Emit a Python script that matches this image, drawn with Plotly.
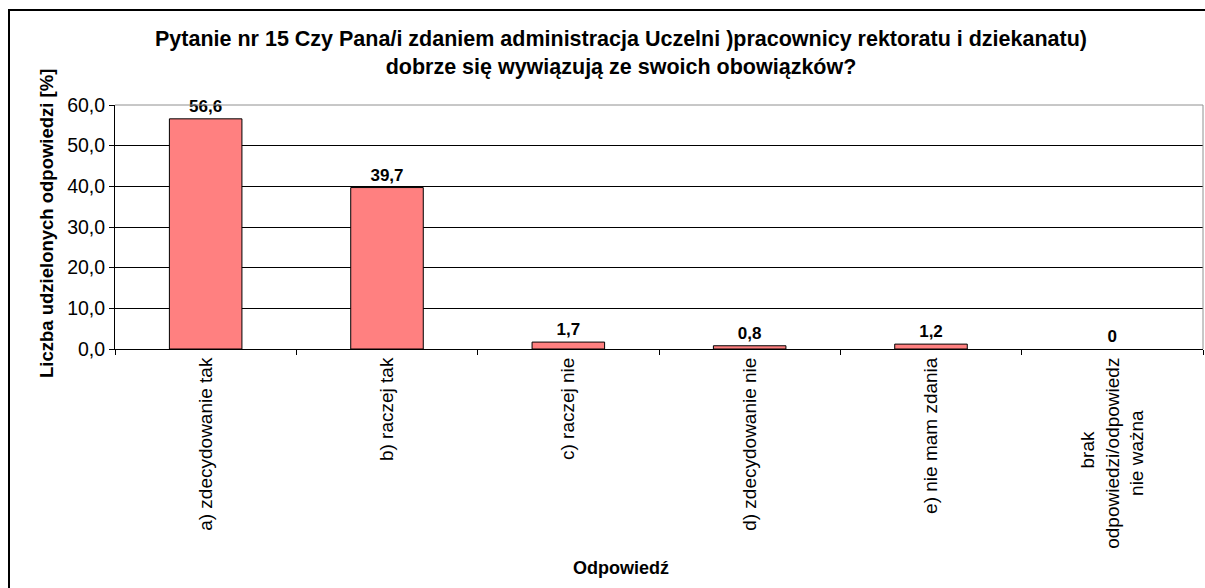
import plotly.graph_objects as go

categories = ["a) zdecydowanie tak", "b) raczej tak", "c) raczej nie",
              "d) zdecydowanie nie", "e) nie mam zdania",
              "brak odpowiedzi/odpowiedz nie ważna"]
tick_labels = ["a) zdecydowanie tak", "b) raczej tak", "c) raczej nie",
               "d) zdecydowanie nie", "e) nie mam zdania",
               "brak" + "\u00a0" * 14 + "<br>odpowiedzi/odpowiedz<br>nie ważna" + "\u00a0" * 10]
values = [56.6, 39.7, 1.7, 0.8, 1.2, 0]
labels = ["56,6", "39,7", "1,7", "0,8", "1,2", "0"]

W, H = 1205, 588
L, R, T, B = 115, 1203, 105, 349
pw, ph = R - L, B - T

def px(x):
    return (x - L) / pw

def py(y):
    return (B - y) / ph

fig = go.Figure()
fig.add_trace(go.Bar(
    x=categories, y=values, text=labels, textposition="outside",
    textfont=dict(family="Arial", size=17, color="black"),
    texttemplate="<b>%{text}</b>",
    marker=dict(color="#FF8080",
                line=dict(color="black", width=[1 if v > 0 else 0 for v in values])),
    cliponaxis=False,
))

fig.update_layout(
    width=W, height=H,
    margin=dict(l=L, r=W - R, t=T, b=H - B, autoexpand=False),
    plot_bgcolor="white", paper_bgcolor="white",
    separators=", ",
    bargap=0.6,
    showlegend=False,
    font=dict(family="Arial", color="black"),
    xaxis=dict(
        tickmode="array", tickvals=categories, ticktext=tick_labels,
        tickangle=-90, tickfont=dict(family="Arial", size=19, color="black"),
        ticks="outside", tickson="boundaries", ticklen=5, tickcolor="black",
        showline=True, linecolor="black", linewidth=1, mirror=False,
        showgrid=False, automargin=False,
    ),
    yaxis=dict(
        range=[0, 60], dtick=10, tickformat=".1f",
        tickfont=dict(family="Arial", size=19.5, color="black"),
        ticks="outside", ticklen=5, tickcolor="black",
        showline=True, linecolor="black", linewidth=1,
        showgrid=True, gridcolor="black", gridwidth=1,
        zeroline=False, automargin=False,
    ),
    shapes=[
        dict(type="path", xref="paper", yref="paper",
             path=f"M {px(L)},{py(T)} L {px(R)},{py(T)} L {px(R)},{py(B)}",
             line=dict(color="#909090", width=1), layer="above"),
        dict(type="rect", xref="paper", yref="paper",
             x0=px(9), x1=px(1215), y0=py(600), y1=py(10),
             line=dict(color="black", width=2)),
    ],
    annotations=[
        dict(text="<b>Pytanie nr 15 Czy Pana/i zdaniem administracja Uczelni )pracownicy rektoratu i dziekanatu)<br>dobrze się wywiązują ze swoich obowiązków?</b>",
             xref="paper", yref="paper", x=px(621), y=py(53), showarrow=False,
             xanchor="center", yanchor="middle",
             font=dict(family="Arial", size=21.5, color="black")),
        dict(text="<b>Liczba udzielonych odpowiedzi [%]</b>",
             xref="paper", yref="paper", x=px(46), y=py(224), showarrow=False,
             textangle=-90, xanchor="center", yanchor="middle",
             font=dict(family="Arial", size=18.5, color="black")),
        dict(text="<b>Odpowiedź</b>",
             xref="paper", yref="paper", x=px(621), y=py(568), showarrow=False,
             xanchor="center", yanchor="middle",
             font=dict(family="Arial", size=18, color="black")),
    ],
)

fig.write_html("out.html", config={"displayModeBar": False},
               post_script="document.body.style.margin='0';document.body.style.overflow='hidden';")
